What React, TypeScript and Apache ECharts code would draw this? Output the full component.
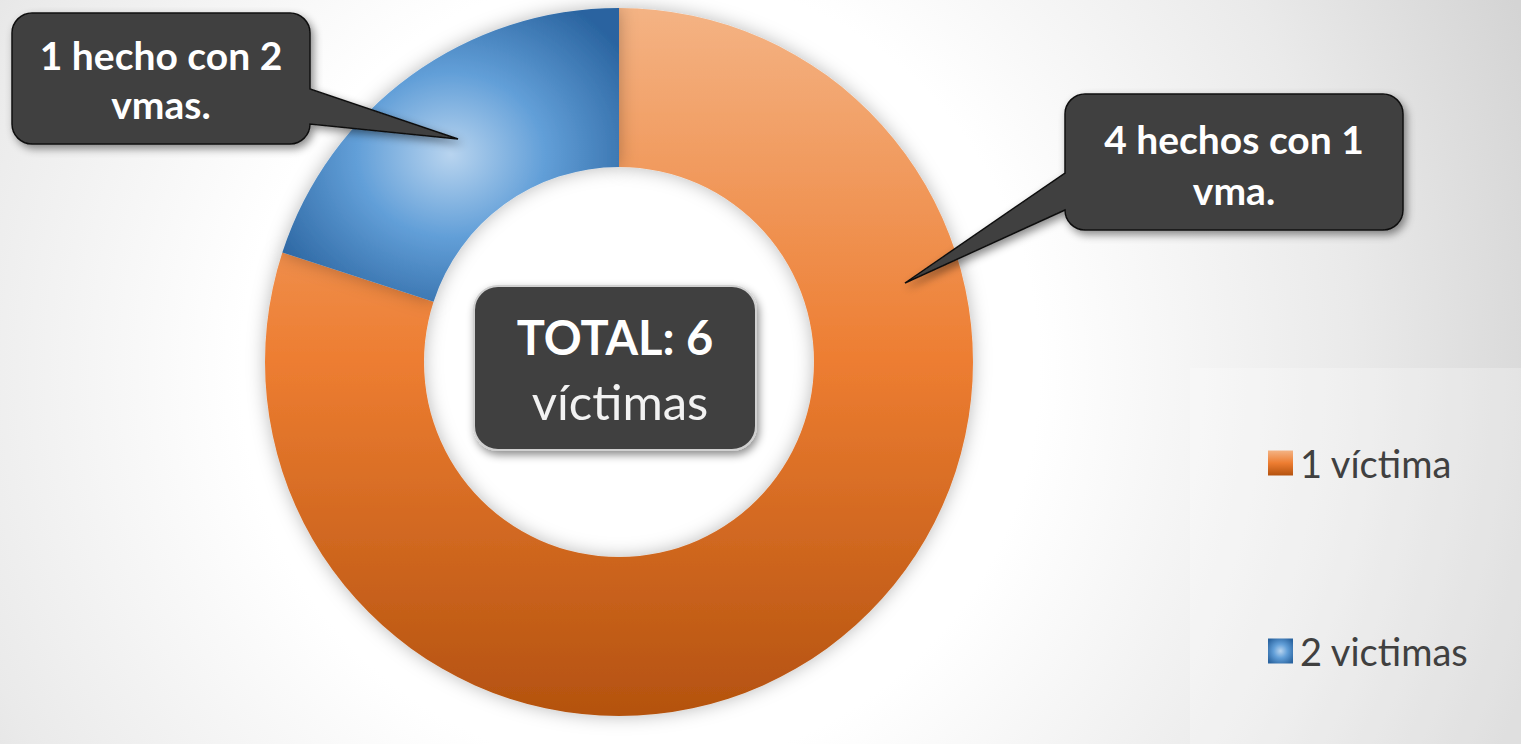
import React, { useEffect, useRef } from 'react';
import * as echarts from 'echarts';

const categories = ['1 víctima', '2 victimas'];
const values = [4, 1];
const calloutLeftLines = ['1 hecho con 2', 'vmas.'];
const calloutRightLines = ['4 hechos con 1', 'vma.'];
const totalLines = ['TOTAL: 6', 'víctimas'];

const FONT = 'Lato, "Noto Sans", sans-serif';

const leftCalloutPath =
  'M 32 13 H 290 A 20 20 0 0 1 310 33 V 89 L 458 139 L 310 124 A 20 20 0 0 1 290 144 H 32 A 20 20 0 0 1 12 124 V 33 A 20 20 0 0 1 32 13 Z';
const rightCalloutPath =
  'M 1085 94 H 1383 A 20 20 0 0 1 1403 114 V 210 A 20 20 0 0 1 1383 230 H 1085 A 20 20 0 0 1 1065 210 L 905 283 L 1065 173 V 114 A 20 20 0 0 1 1085 94 Z';

export default function App() {
  const ref = useRef<HTMLDivElement>(null);
  useEffect(() => {
    document.body.style.margin = '0';
    const el = ref.current!;
    echarts.graphic.registerShape('calloutLeft', echarts.graphic.extendPath(leftCalloutPath, {}));
    echarts.graphic.registerShape('calloutRight', echarts.graphic.extendPath(rightCalloutPath, {}));
    const chart = echarts.init(el, undefined, { renderer: 'svg' });

    const orange = new echarts.graphic.LinearGradient(0, 0, 0, 1, [
      { offset: 0, color: '#f4b384' },
      { offset: 0.5, color: '#ed7d31' },
      { offset: 1, color: '#b4520f' },
    ]);
    const blue = new echarts.graphic.RadialGradient(0.5, 0.5, 0.62, [
      { offset: 0, color: '#b8d4ef' },
      { offset: 0.45, color: '#629fd8' },
      { offset: 1, color: '#2a64a0' },
    ]);
    const colors = [orange, blue];

    const calloutStyle = {
      fill: '#404040',
      stroke: '#111111',
      lineWidth: 1.5,
      shadowBlur: 8,
      shadowOffsetX: 3,
      shadowOffsetY: 4,
      shadowColor: 'rgba(0,0,0,0.45)',
    };
    const boldText = (text: string, x: number, y: number, size: number) => ({
      type: 'text',
      z: 20,
      silent: true,
      style: {
        text,
        x,
        y,
        fill: '#ffffff',
        font: `bold ${size}px ${FONT}`,
        textAlign: 'center',
        textVerticalAlign: 'middle',
      },
    });

    chart.setOption({
      animation: false,
      graphic: [
        {
          type: 'rect',
          z: -10,
          silent: true,
          shape: { x: 0, y: 0, width: 1521, height: 744 },
          style: {
            fill: new echarts.graphic.RadialGradient(640, 370, 950, [
              { offset: 0, color: '#ffffff' },
              { offset: 0.42, color: '#ffffff' },
              { offset: 0.75, color: '#eaeaea' },
              { offset: 1, color: '#d4d4d4' },
            ], true),
          },
        },
        {
          type: 'rect',
          z: -9,
          silent: true,
          shape: { x: 1190, y: 368, width: 331, height: 376 },
          style: { fill: 'rgba(255,255,255,0.25)' },
        },
        { type: 'calloutLeft', z: 15, silent: true, x: 0, y: 0, style: calloutStyle },
        { type: 'calloutRight', z: 15, silent: true, x: 0, y: 0, style: calloutStyle },
        boldText(calloutLeftLines[0], 161, 55, 39),
        boldText(calloutLeftLines[1], 161, 104, 39),
        boldText(calloutRightLines[0], 1234, 139, 39),
        boldText(calloutRightLines[1], 1234, 190, 39),
        {
          type: 'rect',
          z: 15,
          silent: true,
          shape: { x: 474, y: 286, width: 282, height: 164, r: 24 },
          style: {
            fill: '#404040',
            stroke: '#d0d0d0',
            lineWidth: 2,
            shadowBlur: 8,
            shadowOffsetX: 2,
            shadowOffsetY: 4,
            shadowColor: 'rgba(0,0,0,0.45)',
          },
        },
        boldText(totalLines[0], 615, 337, 47),
        {
          type: 'text',
          z: 20,
          silent: true,
          style: {
            text: totalLines[1],
            x: 620,
            y: 401,
            fill: '#f2f2f2',
            font: `49px ${FONT}`,
            textAlign: 'center',
            textVerticalAlign: 'middle',
          },
        },
      ],
      legend: {
        orient: 'vertical',
        left: 1263,
        top: 438,
        itemWidth: 25,
        itemHeight: 25,
        itemGap: 148,
        icon: 'rect',
        selectedMode: false,
        data: categories,
        textStyle: { fontSize: 38, color: '#404040', fontFamily: FONT, lineHeight: 40, padding: [0, 0, 0, 2] },
      },
      series: [
        {
          type: 'pie',
          center: [619, 362],
          radius: [195, 354],
          startAngle: 90,
          clockwise: true,
          silent: true,
          label: { show: false },
          labelLine: { show: false },
          emphasis: { disabled: true },
          itemStyle: {
            shadowBlur: 18,
            shadowColor: 'rgba(0,0,0,0.28)',
          },
          data: categories.map((name, i) => ({
            name,
            value: values[i],
            itemStyle: { color: colors[i] },
          })),
        },
      ],
    });
    return () => chart.dispose();
  }, []);
  return <div ref={ref} style={{ width: 1521, height: 744 }} />;
}
